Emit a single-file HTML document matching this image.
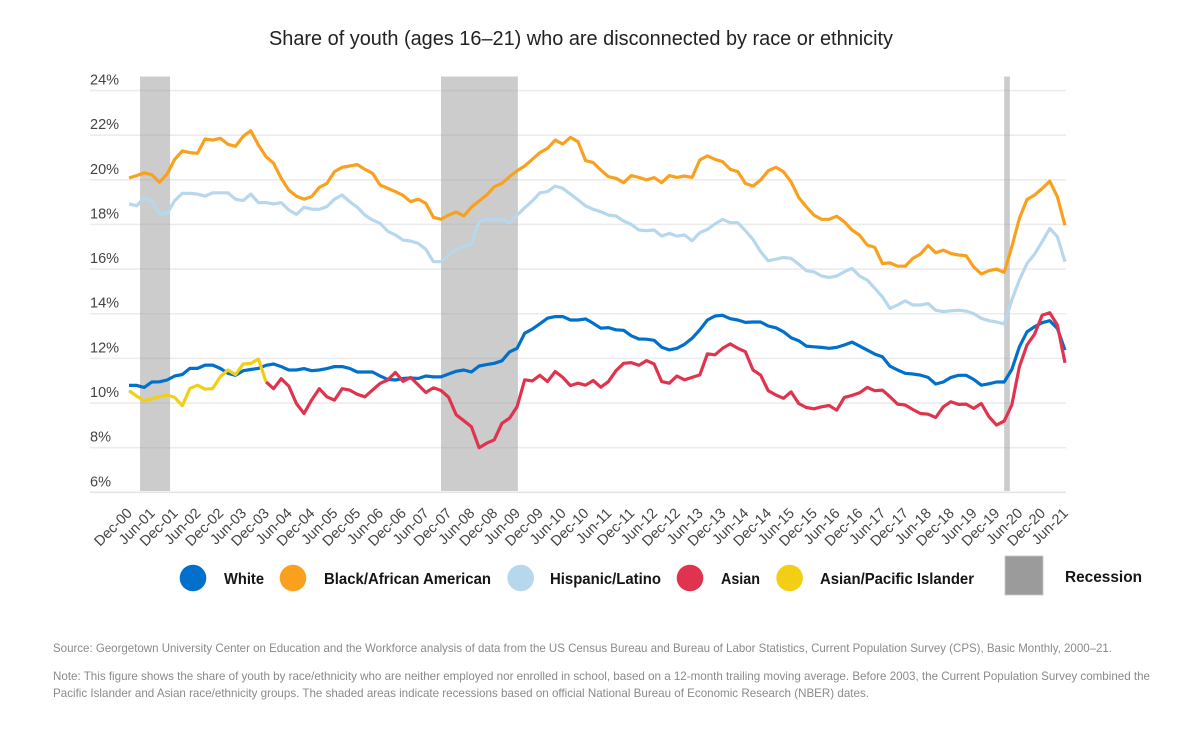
<!DOCTYPE html>
<html lang="en">
<head>
<meta charset="utf-8">
<title>Share of youth who are disconnected by race or ethnicity</title>
<style>
html,body{margin:0;padding:0;background:#fff;}
svg{display:block;font-family:"Liberation Sans",sans-serif;}
.tick{font-size:14.5px;fill:#444;}
.ytick{font-size:14.5px;fill:#444;}
.leg{font-size:16px;font-weight:bold;fill:#151515;}
.foot{font-size:12px;fill:#8a8a8a;}
</style>
</head>
<body>
<svg id="chart" width="1200" height="750" viewBox="0 0 1200 750" xmlns="http://www.w3.org/2000/svg">
  <rect x="0" y="0" width="1200" height="750" fill="#fff"/>
  <text x="269" y="45" font-size="20" fill="#222" textLength="624" lengthAdjust="spacingAndGlyphs">Share of youth (ages 16–21) who are disconnected by race or ethnicity</text>
  <g id="grid"></g>
  <g id="bands"></g>
  <g id="lines"></g>
  <g id="yticks"></g>
  <g id="xticks"></g>

  <g>
    <circle cx="193" cy="578" r="13.3" fill="#0070cc"/>
    <text class="leg" x="224" y="584" textLength="40" lengthAdjust="spacingAndGlyphs">White</text>
    <circle cx="293" cy="578" r="13.3" fill="#f9a11e"/>
    <text class="leg" x="324" y="584" textLength="167" lengthAdjust="spacingAndGlyphs">Black/African American</text>
    <circle cx="520.7" cy="578" r="13.3" fill="#b7d7ec"/>
    <text class="leg" x="550" y="584" textLength="111" lengthAdjust="spacingAndGlyphs">Hispanic/Latino</text>
    <circle cx="690" cy="578" r="13.3" fill="#e0344e"/>
    <text class="leg" x="721" y="584" textLength="39" lengthAdjust="spacingAndGlyphs">Asian</text>
    <circle cx="789.6" cy="578" r="13.3" fill="#f2ce14"/>
    <text class="leg" x="820" y="584" textLength="154" lengthAdjust="spacingAndGlyphs">Asian/Pacific Islander</text>
    <rect x="1005" y="556" width="38" height="39" fill="#9b9b9b" stroke="#c8c8c8" stroke-width="0.8"/>
    <text class="leg" x="1065" y="582" textLength="77" lengthAdjust="spacingAndGlyphs">Recession</text>
  </g>

  <text class="foot" x="53" y="652" textLength="1059" lengthAdjust="spacingAndGlyphs">Source: Georgetown University Center on Education and the Workforce analysis of data from the US Census Bureau and Bureau of Labor Statistics, Current Population Survey (CPS), Basic Monthly, 2000–21.</text>
  <text class="foot" x="53" y="680" textLength="1097" lengthAdjust="spacingAndGlyphs">Note: This figure shows the share of youth by race/ethnicity who are neither employed nor enrolled in school, based on a 12-month trailing moving average. Before 2003, the Current Population Survey combined the</text>
  <text class="foot" x="53" y="697" textLength="816" lengthAdjust="spacingAndGlyphs">Pacific Islander and Asian race/ethnicity groups. The shaded areas indicate recessions based on official National Bureau of Economic Research (NBER) dates.</text>
</svg>
<script>
// Values are sampled every two months beginning Dec-00.
const monthsPerSample = 2;

const xTickLabels = ["Dec-00","Jun-01","Dec-01","Jun-02","Dec-02","Jun-03","Dec-03","Jun-04","Dec-04","Jun-05","Dec-05","Jun-06","Dec-06","Jun-07","Dec-07","Jun-08","Dec-08","Jun-09","Dec-09","Jun-10","Dec-10","Jun-11","Dec-11","Jun-12","Dec-12","Jun-13","Dec-13","Jun-14","Dec-14","Jun-15","Dec-15","Jun-16","Dec-16","Jun-17","Dec-17","Jun-18","Dec-18","Jun-19","Dec-19","Jun-20","Dec-20","Jun-21"];
const yTickValues = [6,8,10,12,14,16,18,20,22,24];

const recessionStarts = [2.9, 82, 230];
const recessionEnds = [10.8, 102.2, 231.5];

const whiteValues = [10.79,10.79,10.7,10.94,10.95,11.03,11.21,11.28,11.55,11.55,11.7,11.7,11.55,11.33,11.24,11.45,11.5,11.55,11.69,11.75,11.63,11.48,11.48,11.54,11.45,11.48,11.54,11.63,11.63,11.55,11.39,11.39,11.39,11.21,11.06,11.03,11.1,11.12,11.1,11.21,11.17,11.17,11.3,11.42,11.48,11.39,11.66,11.72,11.78,11.89,12.29,12.45,13.13,13.31,13.55,13.8,13.87,13.87,13.72,13.72,13.77,13.57,13.35,13.38,13.28,13.26,13.01,12.87,12.86,12.81,12.5,12.38,12.45,12.63,12.9,13.28,13.72,13.9,13.93,13.78,13.72,13.61,13.63,13.63,13.45,13.37,13.19,12.92,12.79,12.55,12.52,12.49,12.45,12.49,12.6,12.73,12.55,12.37,12.19,12.07,11.65,11.48,11.33,11.3,11.25,11.15,10.85,10.94,11.15,11.24,11.24,11.06,10.8,10.86,10.94,10.94,11.5,12.52,13.19,13.42,13.6,13.69,13.34,12.37];

const blackValues = [20.08,20.19,20.31,20.23,19.89,20.26,20.92,21.29,21.22,21.19,21.83,21.78,21.86,21.59,21.5,21.95,22.2,21.56,21.04,20.74,20.07,19.54,19.27,19.13,19.25,19.66,19.84,20.37,20.56,20.62,20.68,20.47,20.29,19.77,19.62,19.47,19.3,19.02,19.13,18.95,18.32,18.23,18.42,18.56,18.38,18.77,19.05,19.32,19.69,19.84,20.14,20.41,20.62,20.92,21.22,21.41,21.78,21.6,21.9,21.71,20.86,20.77,20.44,20.14,20.07,19.87,20.19,20.11,19.99,20.1,19.87,20.19,20.11,20.17,20.11,20.89,21.07,20.92,20.81,20.47,20.37,19.84,19.72,19.99,20.41,20.56,20.36,19.91,19.21,18.79,18.42,18.23,18.23,18.37,18.12,17.75,17.52,17.08,16.97,16.25,16.28,16.13,16.13,16.48,16.67,17.06,16.73,16.85,16.7,16.63,16.6,16.1,15.78,15.93,16.0,15.85,17.0,18.27,19.12,19.32,19.61,19.94,19.24,17.96];

const hispanicValues = [18.92,18.84,19.17,19.07,18.47,18.5,19.07,19.39,19.39,19.36,19.27,19.42,19.42,19.42,19.13,19.07,19.36,18.98,18.98,18.92,18.98,18.65,18.45,18.77,18.69,18.68,18.8,19.13,19.32,19.02,18.77,18.42,18.2,18.05,17.7,17.53,17.3,17.26,17.15,16.89,16.33,16.33,16.6,16.89,17.0,17.15,18.12,18.24,18.2,18.23,18.08,18.42,18.75,19.05,19.42,19.47,19.72,19.62,19.36,19.1,18.83,18.68,18.57,18.42,18.38,18.15,18.0,17.75,17.72,17.75,17.48,17.6,17.48,17.53,17.27,17.63,17.78,18.02,18.23,18.08,18.08,17.72,17.33,16.78,16.37,16.45,16.52,16.48,16.22,15.93,15.88,15.69,15.63,15.69,15.88,16.03,15.69,15.51,15.14,14.76,14.24,14.39,14.58,14.39,14.39,14.46,14.16,14.09,14.13,14.16,14.12,14.0,13.79,13.69,13.63,13.54,14.61,15.51,16.25,16.67,17.23,17.82,17.45,16.33];

const asianPacificValues = [10.55,10.31,10.1,10.19,10.28,10.36,10.25,9.88,10.65,10.8,10.62,10.65,11.18,11.48,11.28,11.75,11.77,11.97,10.95];

// The Asian series begins where the combined Asian/Pacific Islander series ends.
const asianStartSample = 18;
const asianValues = [10.95,10.64,11.09,10.76,9.98,9.53,10.13,10.64,10.28,10.13,10.64,10.58,10.39,10.28,10.58,10.88,11.03,11.37,10.97,11.15,10.81,10.47,10.68,10.56,10.26,9.47,9.21,8.94,8.0,8.2,8.35,9.09,9.32,9.84,11.04,10.99,11.24,10.96,11.41,11.15,10.78,10.89,10.8,11.01,10.71,10.96,11.45,11.78,11.81,11.69,11.9,11.75,10.96,10.89,11.21,11.04,11.15,11.26,12.2,12.16,12.45,12.65,12.45,12.3,11.48,11.25,10.55,10.36,10.21,10.5,9.98,9.8,9.74,9.83,9.89,9.68,10.25,10.34,10.46,10.7,10.55,10.58,10.28,9.95,9.91,9.71,9.53,9.5,9.35,9.83,10.06,9.94,9.95,9.76,9.98,9.39,9.01,9.19,9.91,11.63,12.6,13.09,13.94,14.04,13.49,11.8];

const SVG_NS = "http://www.w3.org/2000/svg";
const plotLeft = 129, monthWidth = 3.805;
const yBase = 492.3, yUnit = 22.32, yMin = 6;
const plotTop = 76.5, plotBottom = 491;

function xScale(month) { return plotLeft + month * monthWidth; }
function yScale(value) { return yBase - (value - yMin) * yUnit; }

const grid = document.getElementById("grid");
yTickValues.forEach(function (v) {
  const line = document.createElementNS(SVG_NS, "line");
  
  
  line.setAttribute("x1", 90);
  line.setAttribute("x2", 1066);
  line.setAttribute("y1", yScale(v));
  line.setAttribute("y2", yScale(v));
  line.setAttribute("stroke", v === yMin ? "#e4e4e4" : "#ececec");
  line.setAttribute("stroke-width", 1.6);
  grid.appendChild(line);
});

const bands = document.getElementById("bands");
recessionStarts.forEach(function (start, i) {
  const rect = document.createElementNS(SVG_NS, "rect");
  
  
  rect.setAttribute("x", xScale(start));
  rect.setAttribute("width", xScale(recessionEnds[i]) - xScale(start));
  rect.setAttribute("y", plotTop);
  rect.setAttribute("height", plotBottom - plotTop);
  rect.setAttribute("fill", "#999");
  rect.setAttribute("fill-opacity", 0.5);
  bands.appendChild(rect);
});

function drawSeries(name, values, startSample, color) {
  const points = values.map(function (v, i) {
    return xScale((i + startSample) * monthsPerSample).toFixed(1) + "," + yScale(v).toFixed(1);
  });
  const path = document.createElementNS(SVG_NS, "polyline");
  
  
  path.setAttribute("points", points.join(" "));
  path.setAttribute("fill", "none");
  path.setAttribute("stroke", color);
  path.setAttribute("stroke-width", 3.2);
  path.setAttribute("stroke-linejoin", "round");
  document.getElementById("lines").appendChild(path);
}
drawSeries("line-hispanic-latino", hispanicValues, 0, "#b7d7ec");
drawSeries("line-black-african-american", blackValues, 0, "#f9a11e");
drawSeries("line-white", whiteValues, 0, "#0070cc");
drawSeries("line-asian", asianValues, asianStartSample, "#e0344e");
drawSeries("line-asian-pacific-islander", asianPacificValues, 0, "#f2ce14");

const yticks = document.getElementById("yticks");
yTickValues.forEach(function (v) {
  const t = document.createElementNS(SVG_NS, "text");
  
  
  t.setAttribute("class", "ytick");
  t.setAttribute("x", 90);
  t.setAttribute("y", yScale(v) - 6);
  t.textContent = v + "%";
  yticks.appendChild(t);
});

const xticks = document.getElementById("xticks");
xTickLabels.forEach(function (label, i) {
  const x = xScale(i * 6) + 4;
  const t = document.createElementNS(SVG_NS, "text");
  
  
  t.setAttribute("class", "tick");
  t.setAttribute("text-anchor", "end");
  t.setAttribute("transform", "translate(" + x.toFixed(1) + ",514) rotate(-45)");
  t.textContent = label;
  xticks.appendChild(t);
});
</script>
</body>
</html>
